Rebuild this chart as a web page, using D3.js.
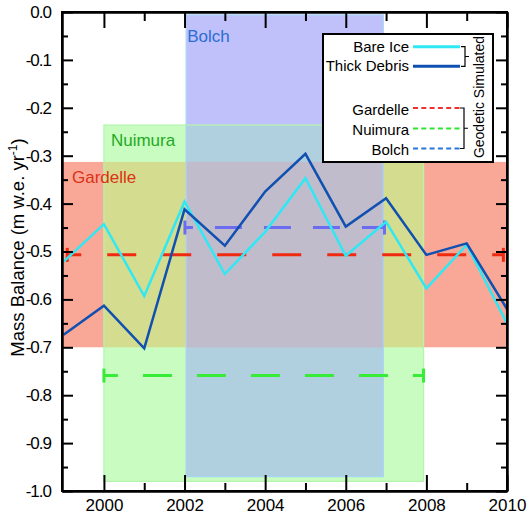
<!DOCTYPE html>
<html>
<head>
<meta charset="utf-8">
<script src="https://cdn.jsdelivr.net/npm/d3@7"></script>
<style>
  body { margin: 0; background: #fff; }
  text { font-family: "Liberation Sans", Arial, sans-serif; }
</style>
</head>
<body>
<svg id="chart" width="528" height="514"></svg>
<script>
// simulated mass balance, one value per year
const years = [1999, 2000, 2001, 2002, 2003, 2004, 2005, 2006, 2007, 2008, 2009, 2010];
const bareIce = [-0.521, -0.443, -0.593, -0.396, -0.547, -0.459, -0.347, -0.509, -0.438, -0.577, -0.486, -0.650];
const thickDebris = [-0.674, -0.613, -0.702, -0.412, -0.488, -0.375, -0.296, -0.448, -0.389, -0.507, -0.483, -0.620];

// geodetic estimates: mean, uncertainty band and period
const geoNames = ["Gardelle", "Nuimura", "Bolch"];
const geoMean = [-0.507, -0.759, -0.450];
const bandTop = [-0.313, -0.236, -0.006];
const bandBottom = [-0.700, -0.980, -0.970];
const bandStart = [1998.96, 2000.0, 2002.04];
const bandEnd = [2010.0, 2007.93, 2006.93];
const lineStart = [1999.09, 2000.0, 2002.01];
const lineEnd = [2009.91, 2007.93, 2006.96];

const yTicks = [0.0, -0.1, -0.2, -0.3, -0.4, -0.5, -0.6, -0.7, -0.8, -0.9, -1.0];
const yMinor = [-0.05, -0.15, -0.25, -0.35, -0.45, -0.55, -0.65, -0.75, -0.85, -0.95];
const xTicks = [2000, 2002, 2004, 2006, 2008, 2010];
const xMinor = [2001, 2003, 2005, 2007, 2009];

const FONT = '"Liberation Sans", Arial, sans-serif';

const fills = {
  "Gardelle": "#f9a898",
  "Nuimura": "#c8fcc0",
  "Bolch": "#c0c0fb",
  "Gardelle+Nuimura": "#d4dc90",
  "Nuimura+Bolch": "#b0d0e0",
  "Gardelle+Bolch": "#c0bccc",
  "Gardelle+Nuimura+Bolch": "#c0bccc"
};
const labelColor = { "Gardelle": "#dc3214", "Nuimura": "#1faa1f", "Bolch": "#2a6ed2" };
const labelShift = { "Gardelle": [10, 21], "Nuimura": [7, 21], "Bolch": [1, 27] };
const lineColor = { "Gardelle": "#f02a10", "Nuimura": "#36ec36", "Bolch": "#6c6cf0" };
const legendDash = { "Gardelle": "#f03030", "Nuimura": "#2ee62e", "Bolch": "#2878dc" };
const dashes = { "Gardelle": ["29,26", 15], "Nuimura": ["29,25", 15], "Bolch": ["27,22", 19] };

const svg = d3.select("#chart");
const x = d3.scaleLinear().domain([1998.96, 2010]).range([62, 507]);
const y = d3.scaleLinear().domain([-1, 0]).range([491, 12]);

svg.append("clipPath").attr("id", "plot").append("rect")
  .attr("x", 62).attr("y", 12).attr("width", 445).attr("height", 479);

const bands = svg.append("g").attr("clip-path", "url(#plot)");

// uncertainty bands, overlaps get their own colour
const boxes = geoNames.map((n, i) => ({
  names: [n], x0: bandStart[i], x1: bandEnd[i], y0: bandTop[i], y1: bandBottom[i]
}));
const pieces = [...boxes];
[[0, 1], [1, 2], [0, 2], [0, 1, 2]].forEach(c => {
  const b = c.map(i => boxes[i]);
  const p = {
    names: c.map(i => geoNames[i]),
    x0: d3.max(b, d => d.x0), x1: d3.min(b, d => d.x1),
    y0: d3.min(b, d => d.y0), y1: d3.max(b, d => d.y1)
  };
  if (p.x1 > p.x0 && p.y0 > p.y1) pieces.push(p);
});
bands.selectAll("rect.band").data(pieces).join("rect")
  .attr("class", "band")
  .attr("x", d => x(d.x0)).attr("y", d => y(d.y0))
  .attr("width", d => x(d.x1) - x(d.x0)).attr("height", d => y(d.y1) - y(d.y0))
  .attr("fill", d => fills[d.names.join("+")]);

// soft outlines of the green and blue bands
bands.selectAll("rect.edge").data(boxes.slice(1)).join("rect")
  .attr("class", "edge")
  .attr("x", d => x(d.x0)).attr("y", d => y(d.y0))
  .attr("width", d => x(d.x1) - x(d.x0)).attr("height", d => y(d.y1) - y(d.y0))
  .attr("fill", "none")
  .attr("stroke", (d, i) => i === 0 ? "#b4f4ac" : "#a8d4f6")
  .attr("stroke-width", 1.2);

// band labels
bands.selectAll("text.bandlabel").data(geoNames).join("text")
  .attr("class", "bandlabel")
  .attr("x", (d, i) => x(bandStart[i]) + labelShift[d][0])
  .attr("y", (d, i) => y(bandTop[i]) + labelShift[d][1])
  .attr("font-size", 17)
  .attr("fill", d => labelColor[d])
  .text(d => d);

// geodetic means as dashed lines with end caps
const geo = svg.append("g").attr("clip-path", "url(#plot)");
geoNames.forEach((n, i) => {
  geo.append("line")
    .attr("x1", x(lineStart[i])).attr("x2", x(lineEnd[i]))
    .attr("y1", y(geoMean[i])).attr("y2", y(geoMean[i]))
    .attr("stroke", lineColor[n]).attr("stroke-width", 3)
    .attr("stroke-dasharray", dashes[n][0]).attr("stroke-dashoffset", dashes[n][1]);
  [lineStart[i], lineEnd[i]].forEach(t => {
    geo.append("line")
      .attr("x1", x(t)).attr("x2", x(t))
      .attr("y1", y(geoMean[i]) - 7).attr("y2", y(geoMean[i]) + 7)
      .attr("stroke", lineColor[n]).attr("stroke-width", 3);
  });
});

// simulated series
const line = d3.line().x((d, i) => x(years[i])).y(d => y(d));
const sim = svg.append("g").attr("clip-path", "url(#plot)");
sim.append("path").datum(bareIce).attr("d", line)
  .attr("fill", "none").attr("stroke", "#30e8f4").attr("stroke-width", 2.5);
sim.append("path").datum(thickDebris).attr("d", line)
  .attr("fill", "none").attr("stroke", "#1050b0").attr("stroke-width", 2.5);

// axes on all four sides, ticks pointing in
function styleAxis(g) {
  g.attr("font-family", FONT).attr("font-size", 17);
  g.select(".domain").attr("stroke", "#000").attr("stroke-width", 2);
  g.selectAll(".tick line").attr("stroke", "#000").attr("stroke-width", 2);
  g.selectAll(".tick text").attr("fill", "#000");
}
svg.append("g").attr("transform", "translate(62,0)")
  .call(d3.axisLeft(y).tickValues(yTicks).tickSize(-11).tickSizeOuter(0).tickPadding(11)
    .tickFormat(d => d.toFixed(1)))
  .call(styleAxis)
  .call(g => g.selectAll(".tick text").attr("letter-spacing", -1));
svg.append("g").attr("transform", "translate(62,0)")
  .call(d3.axisLeft(y).tickValues(yMinor).tickSize(-6).tickSizeOuter(0).tickFormat(""))
  .call(styleAxis);
svg.append("g").attr("transform", "translate(507,0)")
  .call(d3.axisRight(y).tickValues(yTicks).tickSize(-11).tickSizeOuter(0).tickFormat(""))
  .call(styleAxis);
svg.append("g").attr("transform", "translate(507,0)")
  .call(d3.axisRight(y).tickValues(yMinor).tickSize(-6).tickSizeOuter(0).tickFormat(""))
  .call(styleAxis);
svg.append("g").attr("transform", "translate(0,491)")
  .call(d3.axisBottom(x).tickValues(xTicks).tickSize(-16).tickSizeOuter(0).tickPadding(8)
    .tickFormat(d => String(d)))
  .call(styleAxis);
svg.append("g").attr("transform", "translate(0,491)")
  .call(d3.axisBottom(x).tickValues(xMinor).tickSize(-8).tickSizeOuter(0).tickFormat(""))
  .call(styleAxis);
svg.append("g").attr("transform", "translate(0,12)")
  .call(d3.axisTop(x).tickValues(xTicks).tickSize(-16).tickSizeOuter(0).tickFormat(""))
  .call(styleAxis);
svg.append("g").attr("transform", "translate(0,12)")
  .call(d3.axisTop(x).tickValues(xMinor).tickSize(-9).tickSizeOuter(0).tickFormat(""))
  .call(styleAxis);
svg.append("rect").attr("x", 62).attr("y", 12).attr("width", 445).attr("height", 479)
  .attr("fill", "none").attr("stroke", "#000").attr("stroke-width", 2);

// y label
const yl = svg.append("text")
  .attr("transform", "translate(24,247.5) rotate(-90)")
  .attr("text-anchor", "middle").attr("font-size", 18.5).attr("fill", "#000");
yl.append("tspan").text("Mass Balance (m w.e. yr");
yl.append("tspan").attr("dy", -7.5).attr("font-size", 12).text("-1");
yl.append("tspan").attr("dy", 7.5).text(")");

// legend
const lg = svg.append("g");
lg.append("rect").attr("x", 323).attr("y", 34).attr("width", 170).attr("height", 128)
  .attr("fill", "#fff").attr("stroke", "#000").attr("stroke-width", 2);

const simNames = ["Bare Ice", "Thick Debris"];
const simColors = ["#30e8f4", "#1050b0"];
const simY = [46.7, 66.3];
simNames.forEach((n, i) => {
  lg.append("text").attr("x", 409).attr("y", simY[i] + 5).attr("text-anchor", "end")
    .attr("font-size", 15).attr("fill", "#000").text(n);
  lg.append("line").attr("x1", 413).attr("x2", 460).attr("y1", simY[i]).attr("y2", simY[i])
    .attr("stroke", simColors[i]).attr("stroke-width", 3);
});
const geoY = [108, 128.5, 148.5];
geoNames.forEach((n, i) => {
  lg.append("text").attr("x", 409).attr("y", geoY[i] + 6.5).attr("text-anchor", "end")
    .attr("font-size", 15).attr("fill", "#000").text(n);
  lg.append("line").attr("x1", 413).attr("x2", 461).attr("y1", geoY[i]).attr("y2", geoY[i])
    .attr("stroke", legendDash[n]).attr("stroke-width", 2).attr("stroke-dasharray", "5,3.3");
});
function bracket(y0, y1, xb) {
  lg.append("path")
    .attr("d", `M${xb - 4},${y0}H${xb}V${y1}H${xb - 4}M${xb},${(y0 + y1) / 2}H${xb + 4}`)
    .attr("fill", "none").attr("stroke", "#000").attr("stroke-width", 1.2);
}
bracket(simY[0], simY[1], 465);
bracket(geoY[0], geoY[2], 464);
lg.append("text").attr("transform", "translate(484,97) rotate(-90)")
  .attr("text-anchor", "middle").attr("font-size", 14).attr("fill", "#000")
  .text("Geodetic Simulated");
</script>
</body>
</html>
